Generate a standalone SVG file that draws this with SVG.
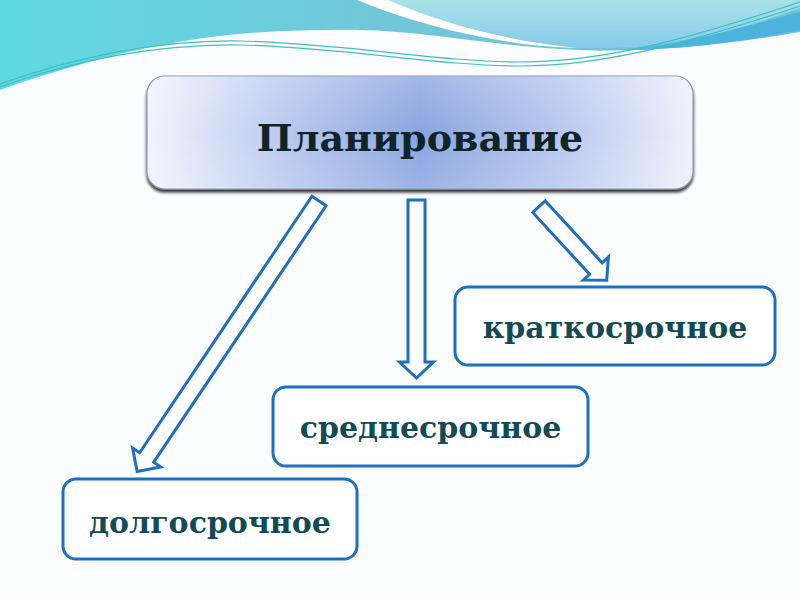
<svg xmlns="http://www.w3.org/2000/svg" width="800" height="600" viewBox="0 0 800 600">
<style>
.box{fill:#ffffff;stroke:#1f6fc0;stroke-width:3}
.lbl{font-family:"DejaVu Serif","Liberation Serif",serif;font-weight:bold;font-size:30px;fill:#124a57;text-anchor:middle}
.title{font-family:"DejaVu Serif","Liberation Serif",serif;font-weight:bold;font-size:38px;fill:#0f2429;text-anchor:middle}
.arr{fill:#ffffff;stroke:#1f6fc0;stroke-width:3;stroke-linejoin:miter}
.wline{fill:none;stroke:#3fbfc2;stroke-width:1.2}
</style>
<defs>
<linearGradient id="tealA" x1="0" y1="0" x2="1" y2="0">
<stop offset="0" stop-color="#5fd9e3"/>
<stop offset="0.5" stop-color="#72c6d8"/>
<stop offset="1" stop-color="#6fc2dc"/>
</linearGradient>
<linearGradient id="tealB" x1="0" y1="0" x2="0" y2="1">
<stop offset="0" stop-color="#a9e3e6"/>
<stop offset="1" stop-color="#86c9ea"/>
</linearGradient>
<linearGradient id="topfill" x1="0" y1="0" x2="1" y2="0">
<stop offset="0" stop-color="#f1f4fc"/>
<stop offset="0.25" stop-color="#b9c9ef"/>
<stop offset="0.5" stop-color="#8ba5e0"/>
<stop offset="0.75" stop-color="#b6c6ee"/>
<stop offset="1" stop-color="#eef1fb"/>
</linearGradient>
<linearGradient id="gloss" x1="0" y1="0" x2="0" y2="1">
<stop offset="0" stop-color="#ffffff" stop-opacity="0.2"/>
<stop offset="0.5" stop-color="#ffffff" stop-opacity="0"/>
<stop offset="1" stop-color="#ffffff" stop-opacity="0.15"/>
</linearGradient>
<filter id="shadow" x="-5%" y="-10%" width="110%" height="130%">
<feDropShadow dx="0" dy="3" stdDeviation="1.5" flood-color="#000000" flood-opacity="0.8"/>
</filter>
</defs>
<rect x="0" y="0" width="800" height="600" fill="#fbfcfd"/>
<g id="background">
<path d="M0,0 H800 V32 C720,46 650,52 580,50 C480,46 420,28 330,30 C220,30 130,45 0,90 Z" fill="url(#tealA)"/>
<path d="M388,0 H800 V8 C740,30 660,52 578,48 C500,40 440,22 388,0 Z" fill="url(#tealB)"/>
<path d="M357,0 H388 C440,22 500,40 578,48 C500,46 420,26 357,0 Z" fill="#ffffff"/>
<path d="M580,50 C660,54 730,30 800,12 V30 C720,46 650,52 580,50 Z" fill="#4bb3dc"/>
<path class="wline" d="M0,84 C90,52 170,40 240,41 C340,43 440,62 520,62 C610,62 700,35 800,2"/>
<path class="wline" d="M0,87 C90,55 170,44 240,45 C340,47 440,66 520,66 C610,66 700,39 800,6"/>
</g>
<g id="connectors">
<polygon class="arr" transform="translate(319,201) rotate(33.9)" points="-8.5,0 8.5,0 8.5,309 17,309 0,326 -17,309 -8.5,309"/>
<polygon class="arr" transform="translate(416.5,200)" points="-8.5,0 8.5,0 8.5,162 17,162 0,178 -17,162 -8.5,162"/>
<polygon class="arr" transform="translate(539,206.7) rotate(-42.6)" points="-8.5,0 8.5,0 8.5,84 17,84 0,100 -17,84 -8.5,84"/>
</g>
<g id="node-planning">
<rect x="147" y="76" width="546" height="113" rx="18" fill="url(#topfill)" stroke="#8393b2" stroke-width="1.2" filter="url(#shadow)"/>
<rect x="147" y="76" width="546" height="113" rx="18" fill="url(#gloss)"/>
<text class="title" x="420" y="151">Планирование</text>
</g>
<g id="node-short">
<rect class="box" x="455" y="287" width="320" height="78" rx="13"/>
<text class="lbl" x="615" y="338">краткосрочное</text>
</g>
<g id="node-medium">
<rect class="box" x="273" y="387" width="315" height="79" rx="13"/>
<text class="lbl" x="430.5" y="438">среднесрочное</text>
</g>
<g id="node-long">
<rect class="box" x="63" y="479" width="294" height="80" rx="13"/>
<text class="lbl" x="210" y="533">долгосрочное</text>
</g>
</svg>
